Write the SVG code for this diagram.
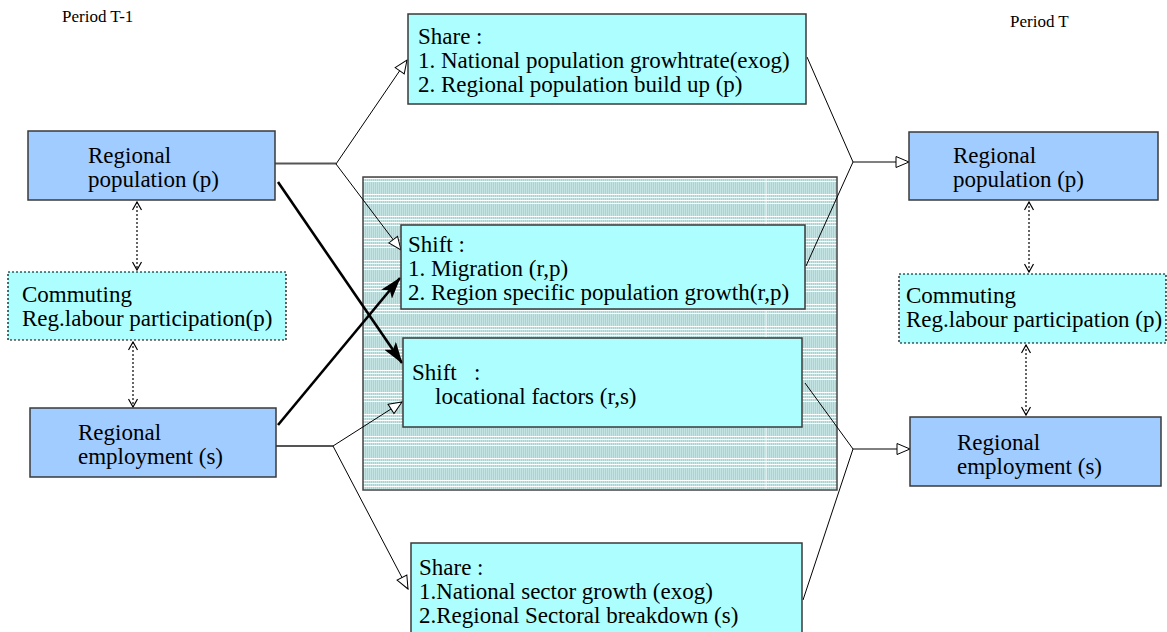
<svg xmlns="http://www.w3.org/2000/svg" width="1167" height="632" viewBox="0 0 1167 632">
<style>
text{font-family:"Liberation Serif","Times New Roman",serif;font-size:23px;fill:#000}
.period{font-size:17px}
.blue{fill:#a0ccff;stroke:#3a3a3a;stroke-width:1.5}
.cyan{fill:#adffff;stroke:#3a3a3a;stroke-width:1.5}
.dash{fill:#adffff;stroke:#000;stroke-width:1.2;stroke-dasharray:2 2}
.thin{fill:none;stroke:#000;stroke-width:1}
.stub{fill:none;stroke:#555;stroke-width:1.8}
.thick{fill:none;stroke:#000;stroke-width:2.6}
.dot{fill:none;stroke:#000;stroke-width:1.2;stroke-dasharray:2 2}
</style>
<defs>
<pattern id="hatch" width="2" height="22" patternUnits="userSpaceOnUse" y="18">
<rect width="2" height="22" fill="#aad3d3"/>
<rect width="1" height="22" fill="#c4e3e3"/>
<rect y="0" width="2" height="1" fill="#ffffff"/>
<rect y="3" width="2" height="1" fill="#ffffff"/>
<rect y="6" width="2" height="1" fill="#ffffff"/>
<rect y="9" width="2" height="1" fill="#ffffff"/>
</pattern>
<marker id="hollow" viewBox="-1 -1 15 13" markerWidth="15" markerHeight="13" refX="13" refY="5.5" orient="auto" markerUnits="userSpaceOnUse">
<path d="M0,0 L13,5.5 L0,11 z" fill="#fff" stroke="#000" stroke-width="1"/>
</marker>
<marker id="solid" viewBox="0 0 22 14" markerWidth="22" markerHeight="14" refX="21" refY="7" orient="auto" markerUnits="userSpaceOnUse">
<path d="M0,0 L22,7 L0,14 L5,7 z" fill="#000"/>
</marker>
<marker id="chev" viewBox="-1 -1 10 11" markerWidth="10" markerHeight="11" refX="8" refY="4.5" orient="auto-start-reverse" markerUnits="userSpaceOnUse">
<path d="M0,0 L8,4.5 L0,9" fill="none" stroke="#000" stroke-width="1.2"/>
</marker>
</defs>

<text class="period" x="62" y="22">Period T-1</text>
<text class="period" x="1010" y="27">Period T</text>

<g id="shift-area">
<rect x="363" y="177" width="474" height="313" fill="url(#hatch)" stroke="#444" stroke-width="1.5"/>
<line x1="766" y1="178" x2="766" y2="489" stroke="#fff" stroke-width="1" opacity="0.8"/>
</g>

<g id="connectors">
<path class="stub" d="M275,163.5 H336"/>
<path class="thin" d="M336,164 L407,60" marker-end="url(#hollow)"/>
<path class="thin" d="M336,164 L401,250" marker-end="url(#hollow)"/>
<path class="stub" d="M276,446 H333"/>
<path class="thin" d="M333,446 L402,402" marker-end="url(#hollow)"/>
<path class="thin" d="M333,446 L408,589" marker-end="url(#hollow)"/>
<path class="thin" d="M807,57 L853,162 L806,266"/>
<path class="thin" d="M853,162 H909" marker-end="url(#hollow)"/>
<path class="thin" d="M805,383 L853,449 L803,600"/>
<path class="thin" d="M853,449 H910" marker-end="url(#hollow)"/>
<path class="thick" d="M278,182 L402,363" marker-end="url(#solid)"/>
<path class="thick" d="M278,425 L400,278" marker-end="url(#solid)"/>
<path class="dot" d="M137,202 V270" marker-start="url(#chev)" marker-end="url(#chev)"/>
<path class="dot" d="M133,342 V407" marker-start="url(#chev)" marker-end="url(#chev)"/>
<path class="dot" d="M1029,202 V272" marker-start="url(#chev)" marker-end="url(#chev)"/>
<path class="dot" d="M1026,345 V415" marker-start="url(#chev)" marker-end="url(#chev)"/>
</g>

<g id="left-population">
<rect class="blue" x="28" y="131" width="247" height="69"/>
<text x="88" y="163">Regional</text>
<text x="88" y="187">population (p)</text>
</g>
<g id="left-commuting">
<rect class="dash" x="8" y="272" width="278" height="68"/>
<text x="22" y="302">Commuting</text>
<text x="22" y="326">Reg.labour participation(p)</text>
</g>
<g id="left-employment">
<rect class="blue" x="30" y="408" width="246" height="69"/>
<text x="78" y="440">Regional</text>
<text x="78" y="464">employment (s)</text>
</g>

<g id="share-population">
<rect class="cyan" x="408" y="14" width="398" height="90"/>
<text x="418" y="44">Share :</text>
<text x="418" y="68">1. National population growhtrate(exog)</text>
<text x="418" y="92">2. Regional population build up (p)</text>
</g>
<g id="shift-population">
<rect class="cyan" x="401" y="225" width="404" height="84"/>
<text x="408" y="252">Shift :</text>
<text x="408" y="276">1. Migration (r,p)</text>
<text x="408" y="300">2. Region specific population growth(r,p)</text>
</g>
<g id="shift-employment">
<rect class="cyan" x="403" y="338" width="399" height="89"/>
<text x="412" y="380" xml:space="preserve">Shift   :</text>
<text x="435" y="404">locational factors (r,s)</text>
</g>
<g id="share-employment">
<rect class="cyan" x="411" y="543" width="391" height="100"/>
<text x="419" y="575">Share :</text>
<text x="419" y="599">1.National sector growth (exog)</text>
<text x="419" y="623">2.Regional Sectoral breakdown (s)</text>
</g>

<g id="right-population">
<rect class="blue" x="909" y="132" width="249" height="68"/>
<text x="953" y="163">Regional</text>
<text x="953" y="187">population (p)</text>
</g>
<g id="right-commuting">
<rect class="dash" x="899" y="274" width="267" height="69"/>
<text x="906" y="303">Commuting</text>
<text x="906" y="327">Reg.labour participation (p)</text>
</g>
<g id="right-employment">
<rect class="blue" x="910" y="417" width="251" height="69"/>
<text x="957" y="450">Regional</text>
<text x="957" y="474">employment (s)</text>
</g>
</svg>
